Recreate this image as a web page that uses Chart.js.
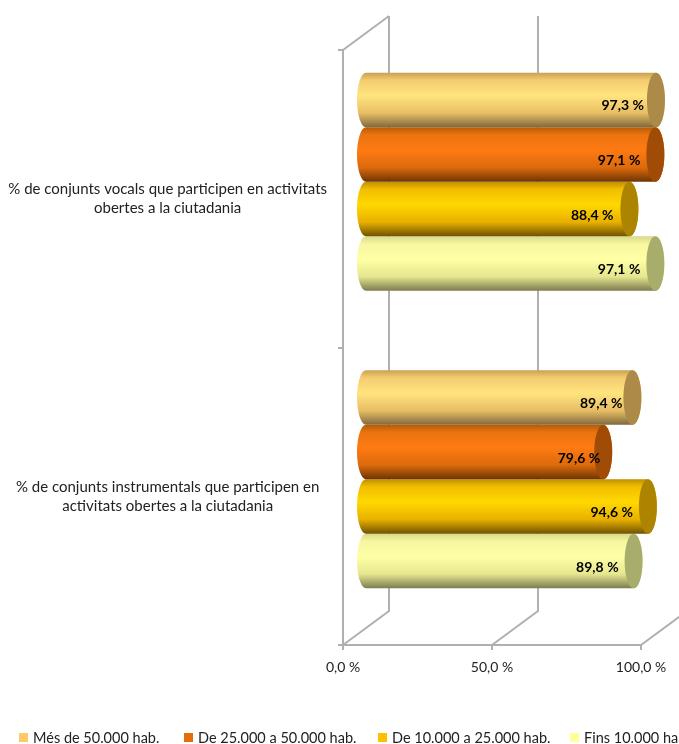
<!DOCTYPE html>
<html>
<head>
<meta charset="utf-8">
<style>
  html, body { margin: 0; background: #fff; overflow: hidden; }
  canvas { display: block; }
</style>
<script src="https://cdn.jsdelivr.net/npm/chart.js@4/dist/chart.umd.min.js"></script>
</head>
<body>
<canvas id="model01" width="679" height="744"></canvas>
<script>
const categories = [
  ['% de conjunts vocals que participen en activitats', 'obertes a la ciutadania'],
  ['% de conjunts instrumentals que participen en', 'activitats obertes a la ciutadania']
]
const seriesNames = ['Més de 50.000 hab.', 'De 25.000 a 50.000 hab.', 'De 10.000 a 25.000 hab.', 'Fins 10.000 hab.']
const mes50000 = [97.3, 89.4]
const de25a50 = [97.1, 79.6]
const de10a25 = [88.4, 94.6]
const fins10000 = [97.1, 89.8]
const xTicks = [0, 50, 100]

// colors: legend, top, light, bottom edge, end cap
const legendColors = ['#FFC966', '#E46C0A', '#FFC000', '#FFFF99']
const bodyStops = [
  ['#C9A052', '#F4CC70', '#FFE47E', '#E8BE64', '#7F6A3E'],
  ['#B85A08', '#EA7410', '#FF7A12', '#DC6A0C', '#6E3404'],
  ['#BF9000', '#F2BE00', '#FFD800', '#E8B000', '#6E5200'],
  ['#D8D88A', '#F7F7A0', '#FFFFA6', '#E6E690', '#7C7C50']
]
const capColors = ['#AC8A48', '#A04C06', '#AD8400', '#A9AD6C']
const legendX = [19, 184, 378, 570]
// the value labels were nudged by hand in the original
const labelNudge = [[0, 2], [-3, 9], [-4, -3], [-3, -3]]

const axisColor = '#B0B0B0'
const fontName = 'Lato, "Noto Sans", sans-serif'
// how far the bars and the back wall sit behind the front axes
const barDepth = { x: 23, y: -17 }
const wallDepth = { x: 46, y: -34 }
const capRadius = 9

const fmt = v => v.toFixed(1).replace('.', ',') + ' %'

const cylinders = {
  id: 'cylinders',
  beforeDatasetDraw(chart, args) {
    const c = chart.ctx
    const x0 = chart.scales.x.getPixelForValue(0) + barDepth.x
    args.meta.data.forEach(bar => {
      const top = bar.y - bar.height / 2 + barDepth.y
      const h = bar.height
      const mid = top + h / 2
      const end = bar.x + barDepth.x
      const grad = c.createLinearGradient(0, top, 0, top + h)
      const s = bodyStops[args.index]
      grad.addColorStop(0, s[0])
      grad.addColorStop(0.14, s[1])
      grad.addColorStop(0.42, s[2])
      grad.addColorStop(0.74, s[3])
      grad.addColorStop(1, s[4])
      c.save()
      c.beginPath()
      c.ellipse(x0, mid, capRadius, h / 2, 0, Math.PI / 2, Math.PI * 1.5)
      c.lineTo(end, top)
      c.ellipse(end, mid, capRadius, h / 2, 0, -Math.PI / 2, Math.PI / 2)
      c.closePath()
      c.fillStyle = grad
      c.fill()
      c.beginPath()
      c.ellipse(end, mid, capRadius, h / 2, 0, 0, Math.PI * 2)
      c.fillStyle = capColors[args.index]
      c.fill()
      c.restore()
    })
    return false
  },
  afterDatasetsDraw(chart) {
    const c = chart.ctx
    c.save()
    c.font = 'bold 14px ' + fontName
    c.fillStyle = '#000'
    c.textAlign = 'right'
    c.textBaseline = 'middle'
    chart.data.datasets.forEach((ds, i) => {
      chart.getDatasetMeta(i).data.forEach((bar, j) => {
        c.fillText(fmt(ds.data[j]), bar.x + barDepth.x - 12 + labelNudge[i][j], bar.y + barDepth.y + 6)
      })
    })
    c.restore()
  }
}

// back wall and floor lines of the 3D box
const walls = {
  id: 'walls',
  beforeDatasetsDraw(chart) {
    const c = chart.ctx
    const { top, bottom } = chart.chartArea
    c.save()
    c.strokeStyle = axisColor
    c.lineWidth = 2
    xTicks.forEach(t => {
      const x = chart.scales.x.getPixelForValue(t)
      c.beginPath()
      c.moveTo(x, bottom)
      c.lineTo(x + wallDepth.x, bottom + wallDepth.y)
      c.lineTo(x + wallDepth.x, top + wallDepth.y)
      c.stroke()
    })
    const x = chart.scales.x.getPixelForValue(0)
    c.beginPath()
    c.moveTo(x, top)
    c.lineTo(x + wallDepth.x, top + wallDepth.y)
    c.stroke()
    c.restore()
  }
}

const legendRow = {
  id: 'legendRow',
  afterDraw(chart) {
    const c = chart.ctx
    c.save()
    c.font = '14.5px ' + fontName
    c.textBaseline = 'middle'
    seriesNames.forEach((name, i) => {
      c.fillStyle = legendColors[i]
      c.fillRect(legendX[i], 733, 9, 9)
      c.fillStyle = '#222'
      c.fillText(name, legendX[i] + 14, 738)
    })
    c.restore()
  }
}

const data = {
  labels: categories,
  datasets: [
    { label: seriesNames[0], data: mes50000, backgroundColor: legendColors[0] },
    { label: seriesNames[1], data: de25a50, backgroundColor: legendColors[1] },
    { label: seriesNames[2], data: de10a25, backgroundColor: legendColors[2] },
    { label: seriesNames[3], data: fins10000, backgroundColor: legendColors[3] }
  ]
}

const maps = new Chart(document.getElementById('model01'), {
  type: 'bar',
  data: data,
  plugins: [walls, cylinders, legendRow],
  options: {
    indexAxis: 'y',
    responsive: false,
    animation: false,
    barPercentage: 1,
    categoryPercentage: 0.733,
    layout: { padding: { left: 0, top: 50, right: 38, bottom: 0 } },
    plugins: {
      legend: { display: false },
      tooltip: { enabled: false }
    },
    scales: {
      x: {
        min: 0,
        max: 100,
        afterBuildTicks(scale) {
          scale.ticks = xTicks.map(v => ({ value: v }))
        },
        afterFit(scale) {
          scale.height = 99
        },
        border: { color: axisColor, width: 2 },
        grid: { drawOnChartArea: false, color: axisColor, tickLength: 5, lineWidth: 2 },
        ticks: {
          maxRotation: 0,
          padding: 9,
          color: '#222',
          font: { family: fontName, size: 14 },
          callback: v => fmt(v)
        }
      },
      y: {
        afterFit(scale) {
          scale.width = 343
        },
        border: { color: axisColor, width: 2 },
        grid: { drawOnChartArea: false, color: axisColor, tickLength: 5, lineWidth: 2 },
        ticks: {
          crossAlign: 'center',
          padding: 11,
          color: '#222',
          font: { family: fontName, size: 15, lineHeight: 1.27 }
        }
      }
    }
  }
})
</script>
</body>
</html>
